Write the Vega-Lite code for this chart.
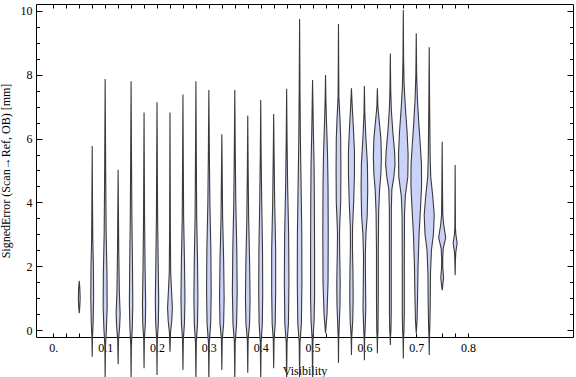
{
  "$schema": "https://vega.github.io/schema/vega-lite/v6.json",
  "width": 537,
  "height": 333,
  "autosize": {"type": "none"},
  "padding": {"left": 36, "top": 4, "right": 3, "bottom": 40},
  "config": {
    "view": {"stroke": "black", "strokeWidth": 1},
    "font": "Liberation Serif",
    "axis": {"domain": false, "grid": false, "tickColor": "black", "tickWidth": 1, "labelFont": "Liberation Serif", "labelFontSize": 12, "labelColor": "black", "titleFont": "Liberation Serif", "titleFontSize": 12, "titleFontWeight": "normal", "titleColor": "black"}
  },
  "data": {"values": [
    {"v":0.05,"e":1.54,"a":0.05,"b":0.05},{"v":0.05,"e":1.3,"a":0.04884,"b":0.05116},{"v":0.05,"e":1.0,"a":0.04826,"b":0.05174},{"v":0.05,"e":0.75,"a":0.04884,"b":0.05116},{"v":0.05,"e":0.53,"a":0.05,"b":0.05},
    {"v":0.075,"e":5.77,"a":0.075,"b":0.075},{"v":0.075,"e":4,"a":0.07442,"b":0.07558},{"v":0.075,"e":2.8,"a":0.07384,"b":0.07616},{"v":0.075,"e":2.0,"a":0.07268,"b":0.07732},{"v":0.075,"e":1.0,"a":0.0723,"b":0.0777},{"v":0.075,"e":0.2,"a":0.07326,"b":0.07674},{"v":0.075,"e":-0.2,"a":0.07442,"b":0.07558},{"v":0.075,"e":-0.84,"a":0.075,"b":0.075},
    {"v":0.1,"e":7.87,"a":0.1,"b":0.1},{"v":0.1,"e":5,"a":0.09903,"b":0.10097},{"v":0.1,"e":3,"a":0.09807,"b":0.10193},{"v":0.1,"e":1.8,"a":0.09652,"b":0.10348},{"v":0.1,"e":0.7,"a":0.09614,"b":0.10386},{"v":0.1,"e":0,"a":0.09768,"b":0.10232},{"v":0.1,"e":-0.5,"a":0.09942,"b":0.10058},{"v":0.1,"e":-1.6,"a":0.1,"b":0.1},
    {"v":0.125,"e":5.02,"a":0.125,"b":0.125},{"v":0.125,"e":2.5,"a":0.12384,"b":0.12616},{"v":0.125,"e":1.2,"a":0.12268,"b":0.12732},{"v":0.125,"e":0.5,"a":0.12114,"b":0.12886},{"v":0.125,"e":0.1,"a":0.1221,"b":0.1279},{"v":0.125,"e":-0.3,"a":0.12423,"b":0.12577},{"v":0.125,"e":-1.07,"a":0.125,"b":0.125},
    {"v":0.15,"e":7.8,"a":0.15,"b":0.15},{"v":0.15,"e":5.5,"a":0.14923,"b":0.15077},{"v":0.15,"e":3.5,"a":0.14845,"b":0.15155},{"v":0.15,"e":2,"a":0.1473,"b":0.1527},{"v":0.15,"e":0.8,"a":0.14672,"b":0.15328},{"v":0.15,"e":0.1,"a":0.14768,"b":0.15232},{"v":0.15,"e":-0.5,"a":0.14942,"b":0.15058},{"v":0.15,"e":-1.6,"a":0.15,"b":0.15},
    {"v":0.175,"e":6.82,"a":0.175,"b":0.175},{"v":0.175,"e":3.5,"a":0.17403,"b":0.17597},{"v":0.175,"e":2,"a":0.17307,"b":0.17693},{"v":0.175,"e":0.8,"a":0.17191,"b":0.17809},{"v":0.175,"e":0.2,"a":0.17249,"b":0.17751},{"v":0.175,"e":-0.3,"a":0.17442,"b":0.17558},{"v":0.175,"e":-1.2,"a":0.175,"b":0.175},
    {"v":0.2,"e":7.14,"a":0.2,"b":0.2},{"v":0.2,"e":3.5,"a":0.19884,"b":0.20116},{"v":0.2,"e":2,"a":0.19768,"b":0.20232},{"v":0.2,"e":0.9,"a":0.19672,"b":0.20328},{"v":0.2,"e":0.2,"a":0.19749,"b":0.20251},{"v":0.2,"e":-0.3,"a":0.19942,"b":0.20058},{"v":0.2,"e":-1.41,"a":0.2,"b":0.2},
    {"v":0.225,"e":6.82,"a":0.225,"b":0.225},{"v":0.225,"e":3,"a":0.22423,"b":0.22577},{"v":0.225,"e":1.8,"a":0.22365,"b":0.22635},{"v":0.225,"e":1.2,"a":0.22191,"b":0.22809},{"v":0.225,"e":0.7,"a":0.22036,"b":0.22964},{"v":0.225,"e":0.3,"a":0.22152,"b":0.22848},{"v":0.225,"e":-0.1,"a":0.22403,"b":0.22597},{"v":0.225,"e":-0.68,"a":0.225,"b":0.225},
    {"v":0.25,"e":7.38,"a":0.25,"b":0.25},{"v":0.25,"e":5.5,"a":0.24942,"b":0.25058},{"v":0.25,"e":3.5,"a":0.24865,"b":0.25135},{"v":0.25,"e":2.2,"a":0.2471,"b":0.2529},{"v":0.25,"e":1,"a":0.24614,"b":0.25386},{"v":0.25,"e":0.2,"a":0.2471,"b":0.2529},{"v":0.25,"e":-0.3,"a":0.24923,"b":0.25077},{"v":0.25,"e":-1.25,"a":0.25,"b":0.25},
    {"v":0.275,"e":7.8,"a":0.275,"b":0.275},{"v":0.275,"e":5.5,"a":0.27423,"b":0.27577},{"v":0.275,"e":3.5,"a":0.27345,"b":0.27655},{"v":0.275,"e":2.2,"a":0.27191,"b":0.27809},{"v":0.275,"e":1,"a":0.27114,"b":0.27886},{"v":0.275,"e":0.2,"a":0.27191,"b":0.27809},{"v":0.275,"e":-0.4,"a":0.27423,"b":0.27577},{"v":0.275,"e":-1.6,"a":0.275,"b":0.275},
    {"v":0.3,"e":7.52,"a":0.3,"b":0.3},{"v":0.3,"e":5.5,"a":0.29903,"b":0.30097},{"v":0.3,"e":4,"a":0.29807,"b":0.30193},{"v":0.3,"e":2.5,"a":0.29614,"b":0.30386},{"v":0.3,"e":1.2,"a":0.29556,"b":0.30444},{"v":0.3,"e":0.2,"a":0.29652,"b":0.30348},{"v":0.3,"e":-0.4,"a":0.29923,"b":0.30077},{"v":0.3,"e":-1.6,"a":0.3,"b":0.3},
    {"v":0.325,"e":6.14,"a":0.325,"b":0.325},{"v":0.325,"e":3.5,"a":0.32345,"b":0.32655},{"v":0.325,"e":2.2,"a":0.32152,"b":0.32848},{"v":0.325,"e":1,"a":0.32056,"b":0.32944},{"v":0.325,"e":0.2,"a":0.32152,"b":0.32848},{"v":0.325,"e":-0.3,"a":0.32423,"b":0.32577},{"v":0.325,"e":-1.25,"a":0.325,"b":0.325},
    {"v":0.35,"e":7.52,"a":0.35,"b":0.35},{"v":0.35,"e":5.5,"a":0.34903,"b":0.35097},{"v":0.35,"e":4,"a":0.34807,"b":0.35193},{"v":0.35,"e":2.5,"a":0.34614,"b":0.35386},{"v":0.35,"e":1.2,"a":0.34536,"b":0.35464},{"v":0.35,"e":0.2,"a":0.34652,"b":0.35348},{"v":0.35,"e":-0.4,"a":0.34923,"b":0.35077},{"v":0.35,"e":-1.6,"a":0.35,"b":0.35},
    {"v":0.375,"e":6.72,"a":0.375,"b":0.375},{"v":0.375,"e":5,"a":0.37423,"b":0.37577},{"v":0.375,"e":3.5,"a":0.37326,"b":0.37674},{"v":0.375,"e":2.2,"a":0.37152,"b":0.37848},{"v":0.375,"e":1,"a":0.37056,"b":0.37944},{"v":0.375,"e":0.2,"a":0.37152,"b":0.37848},{"v":0.375,"e":-0.3,"a":0.37423,"b":0.37577},{"v":0.375,"e":-1.34,"a":0.375,"b":0.375},
    {"v":0.4,"e":7.21,"a":0.4,"b":0.4},{"v":0.4,"e":5.5,"a":0.39923,"b":0.40077},{"v":0.4,"e":4,"a":0.39807,"b":0.40193},{"v":0.4,"e":2.5,"a":0.39652,"b":0.40348},{"v":0.4,"e":1.2,"a":0.39614,"b":0.40386},{"v":0.4,"e":0.2,"a":0.39691,"b":0.40309},{"v":0.4,"e":-0.4,"a":0.39923,"b":0.40077},{"v":0.4,"e":-1.6,"a":0.4,"b":0.4},
    {"v":0.425,"e":6.77,"a":0.425,"b":0.425},{"v":0.425,"e":5.5,"a":0.42423,"b":0.42577},{"v":0.425,"e":4,"a":0.42307,"b":0.42693},{"v":0.425,"e":2.5,"a":0.42114,"b":0.42886},{"v":0.425,"e":1.2,"a":0.42114,"b":0.42886},{"v":0.425,"e":0.2,"a":0.4221,"b":0.4279},{"v":0.425,"e":-0.3,"a":0.42423,"b":0.42577},{"v":0.425,"e":-1.2,"a":0.425,"b":0.425},
    {"v":0.45,"e":7.56,"a":0.45,"b":0.45},{"v":0.45,"e":6,"a":0.44923,"b":0.45077},{"v":0.45,"e":4.5,"a":0.44807,"b":0.45193},{"v":0.45,"e":3,"a":0.44614,"b":0.45386},{"v":0.45,"e":1.5,"a":0.44556,"b":0.45444},{"v":0.45,"e":0.2,"a":0.44652,"b":0.45348},{"v":0.45,"e":-0.4,"a":0.44923,"b":0.45077},{"v":0.45,"e":-1.6,"a":0.45,"b":0.45},
    {"v":0.475,"e":9.75,"a":0.475,"b":0.475},{"v":0.475,"e":7.5,"a":0.47423,"b":0.47577},{"v":0.475,"e":6,"a":0.47345,"b":0.47655},{"v":0.475,"e":4.5,"a":0.4721,"b":0.4779},{"v":0.475,"e":3,"a":0.47075,"b":0.47925},{"v":0.475,"e":1.5,"a":0.47056,"b":0.47944},{"v":0.475,"e":0.2,"a":0.47152,"b":0.47848},{"v":0.475,"e":-0.4,"a":0.47423,"b":0.47577},{"v":0.475,"e":-1.6,"a":0.475,"b":0.475},
    {"v":0.5,"e":7.84,"a":0.5,"b":0.5},{"v":0.5,"e":6.2,"a":0.49845,"b":0.50155},{"v":0.5,"e":5.2,"a":0.4971,"b":0.5029},{"v":0.5,"e":4,"a":0.49652,"b":0.50348},{"v":0.5,"e":2.5,"a":0.49614,"b":0.50386},{"v":0.5,"e":1,"a":0.49614,"b":0.50386},{"v":0.5,"e":0.3,"a":0.4971,"b":0.5029},{"v":0.5,"e":-0.3,"a":0.49923,"b":0.50077},{"v":0.5,"e":-1.6,"a":0.5,"b":0.5},
    {"v":0.525,"e":7.99,"a":0.525,"b":0.525},{"v":0.525,"e":7.2,"a":0.52423,"b":0.52577},{"v":0.525,"e":6.5,"a":0.52307,"b":0.52693},{"v":0.525,"e":5.5,"a":0.52114,"b":0.52886},{"v":0.525,"e":4.5,"a":0.52017,"b":0.52983},{"v":0.525,"e":3,"a":0.51978,"b":0.53022},{"v":0.525,"e":1.5,"a":0.52017,"b":0.52983},{"v":0.525,"e":0.5,"a":0.5221,"b":0.5279},{"v":0.525,"e":-0.1,"a":0.525,"b":0.525},
    {"v":0.55,"e":9.59,"a":0.55,"b":0.55},{"v":0.55,"e":8.3,"a":0.54961,"b":0.55039},{"v":0.55,"e":7.3,"a":0.54923,"b":0.55077},{"v":0.55,"e":6.6,"a":0.5471,"b":0.5529},{"v":0.55,"e":6,"a":0.54575,"b":0.55425},{"v":0.55,"e":5,"a":0.54536,"b":0.55464},{"v":0.55,"e":4,"a":0.54575,"b":0.55425},{"v":0.55,"e":3.5,"a":0.5471,"b":0.5529},{"v":0.55,"e":3,"a":0.54807,"b":0.55193},{"v":0.55,"e":2.4,"a":0.54768,"b":0.55232},{"v":0.55,"e":1.5,"a":0.54672,"b":0.55328},{"v":0.55,"e":0.8,"a":0.5471,"b":0.5529},{"v":0.55,"e":0,"a":0.54884,"b":0.55116},{"v":0.55,"e":-0.3,"a":0.54961,"b":0.55039},{"v":0.55,"e":-1.03,"a":0.55,"b":0.55},
    {"v":0.575,"e":7.58,"a":0.575,"b":0.575},{"v":0.575,"e":7,"a":0.57345,"b":0.57655},{"v":0.575,"e":6.3,"a":0.57114,"b":0.57886},{"v":0.575,"e":5.6,"a":0.5692,"b":0.5808},{"v":0.575,"e":4.9,"a":0.5692,"b":0.5808},{"v":0.575,"e":4,"a":0.57075,"b":0.57925},{"v":0.575,"e":3.2,"a":0.57287,"b":0.57713},{"v":0.575,"e":2.6,"a":0.57307,"b":0.57693},{"v":0.575,"e":1.8,"a":0.5721,"b":0.5779},{"v":0.575,"e":1,"a":0.57172,"b":0.57828},{"v":0.575,"e":0.3,"a":0.57249,"b":0.57751},{"v":0.575,"e":-0.2,"a":0.57442,"b":0.57558},{"v":0.575,"e":-0.78,"a":0.575,"b":0.575},
    {"v":0.6,"e":7.65,"a":0.6,"b":0.6},{"v":0.6,"e":6.8,"a":0.59923,"b":0.60077},{"v":0.6,"e":6,"a":0.5971,"b":0.6029},{"v":0.6,"e":5.2,"a":0.5942,"b":0.6058},{"v":0.6,"e":4.4,"a":0.59362,"b":0.60638},{"v":0.6,"e":3.6,"a":0.59459,"b":0.60541},{"v":0.6,"e":3,"a":0.5971,"b":0.6029},{"v":0.6,"e":2.3,"a":0.59826,"b":0.60174},{"v":0.6,"e":1.5,"a":0.59787,"b":0.60213},{"v":0.6,"e":0.7,"a":0.5973,"b":0.6027},{"v":0.6,"e":0.1,"a":0.59845,"b":0.60155},{"v":0.6,"e":-0.3,"a":0.59961,"b":0.60039},{"v":0.6,"e":-0.95,"a":0.6,"b":0.6},
    {"v":0.625,"e":7.58,"a":0.625,"b":0.625},{"v":0.625,"e":7.0,"a":0.62403,"b":0.62597},{"v":0.625,"e":6.5,"a":0.62114,"b":0.62886},{"v":0.625,"e":6.0,"a":0.61824,"b":0.63176},{"v":0.625,"e":5.4,"a":0.61727,"b":0.63273},{"v":0.625,"e":4.9,"a":0.61824,"b":0.63176},{"v":0.625,"e":4.4,"a":0.62075,"b":0.62925},{"v":0.625,"e":3.7,"a":0.62249,"b":0.62751},{"v":0.625,"e":2.5,"a":0.62326,"b":0.62674},{"v":0.625,"e":1,"a":0.62326,"b":0.62674},{"v":0.625,"e":0,"a":0.62384,"b":0.62616},{"v":0.625,"e":-0.3,"a":0.62461,"b":0.62539},{"v":0.625,"e":-0.73,"a":0.625,"b":0.625},
    {"v":0.65,"e":8.67,"a":0.65,"b":0.65},{"v":0.65,"e":7.5,"a":0.64923,"b":0.65077},{"v":0.65,"e":6.9,"a":0.64807,"b":0.65193},{"v":0.65,"e":6.2,"a":0.64517,"b":0.65483},{"v":0.65,"e":5.6,"a":0.64189,"b":0.65811},{"v":0.65,"e":5.2,"a":0.64092,"b":0.65908},{"v":0.65,"e":4.8,"a":0.64324,"b":0.65676},{"v":0.65,"e":4.4,"a":0.6471,"b":0.6529},{"v":0.65,"e":3.8,"a":0.64807,"b":0.65193},{"v":0.65,"e":2,"a":0.64826,"b":0.65174},{"v":0.65,"e":0.5,"a":0.64826,"b":0.65174},{"v":0.65,"e":0,"a":0.64884,"b":0.65116},{"v":0.65,"e":-0.2,"a":0.64961,"b":0.65039},{"v":0.65,"e":-0.47,"a":0.65,"b":0.65},
    {"v":0.675,"e":10.03,"a":0.675,"b":0.675},{"v":0.675,"e":8.5,"a":0.67442,"b":0.67558},{"v":0.675,"e":7.7,"a":0.67345,"b":0.67655},{"v":0.675,"e":7.0,"a":0.67114,"b":0.67886},{"v":0.675,"e":6.2,"a":0.66766,"b":0.68234},{"v":0.675,"e":5.5,"a":0.66573,"b":0.68427},{"v":0.675,"e":4.8,"a":0.66631,"b":0.68369},{"v":0.675,"e":4.2,"a":0.67114,"b":0.67886},{"v":0.675,"e":3.6,"a":0.67268,"b":0.67732},{"v":0.675,"e":2,"a":0.67307,"b":0.67693},{"v":0.675,"e":0.5,"a":0.67307,"b":0.67693},{"v":0.675,"e":0,"a":0.67365,"b":0.67635},{"v":0.675,"e":-0.3,"a":0.67461,"b":0.67539},{"v":0.675,"e":-0.89,"a":0.675,"b":0.675},
    {"v":0.7,"e":9.3,"a":0.7,"b":0.7},{"v":0.7,"e":8,"a":0.69923,"b":0.70077},{"v":0.7,"e":7.2,"a":0.69768,"b":0.70232},{"v":0.7,"e":6.5,"a":0.69517,"b":0.70483},{"v":0.7,"e":5.9,"a":0.69266,"b":0.70734},{"v":0.7,"e":5.2,"a":0.68995,"b":0.71005},{"v":0.7,"e":4.5,"a":0.68976,"b":0.71024},{"v":0.7,"e":3.8,"a":0.69189,"b":0.70811},{"v":0.7,"e":3.0,"a":0.69459,"b":0.70541},{"v":0.7,"e":2.0,"a":0.69652,"b":0.70348},{"v":0.7,"e":1.0,"a":0.69749,"b":0.70251},{"v":0.7,"e":0.3,"a":0.69845,"b":0.70155},{"v":0.7,"e":-0.1,"a":0.7,"b":0.7},
    {"v":0.725,"e":8.86,"a":0.725,"b":0.725},{"v":0.725,"e":7,"a":0.72423,"b":0.72577},{"v":0.725,"e":5.5,"a":0.72326,"b":0.72674},{"v":0.725,"e":4.8,"a":0.7221,"b":0.7279},{"v":0.725,"e":4.2,"a":0.71824,"b":0.73176},{"v":0.725,"e":3.6,"a":0.71534,"b":0.73466},{"v":0.725,"e":3.0,"a":0.71689,"b":0.73311},{"v":0.725,"e":2.5,"a":0.72075,"b":0.72925},{"v":0.725,"e":1.8,"a":0.72249,"b":0.72751},{"v":0.725,"e":0.8,"a":0.72307,"b":0.72693},{"v":0.725,"e":0.1,"a":0.72384,"b":0.72616},{"v":0.725,"e":-0.3,"a":0.72461,"b":0.72539},{"v":0.725,"e":-0.78,"a":0.725,"b":0.725},
    {"v":0.75,"e":5.9,"a":0.75,"b":0.75},{"v":0.75,"e":4.5,"a":0.74942,"b":0.75058},{"v":0.75,"e":3.6,"a":0.74884,"b":0.75116},{"v":0.75,"e":3.3,"a":0.7471,"b":0.7529},{"v":0.75,"e":2.9,"a":0.74324,"b":0.75676},{"v":0.75,"e":2.55,"a":0.74807,"b":0.75193},{"v":0.75,"e":2.2,"a":0.74903,"b":0.75097},{"v":0.75,"e":1.95,"a":0.74884,"b":0.75116},{"v":0.75,"e":1.65,"a":0.7473,"b":0.7527},{"v":0.75,"e":1.4,"a":0.74884,"b":0.75116},{"v":0.75,"e":1.25,"a":0.75,"b":0.75},
    {"v":0.775,"e":5.17,"a":0.775,"b":0.775},{"v":0.775,"e":3.2,"a":0.77442,"b":0.77558},{"v":0.775,"e":3.0,"a":0.77365,"b":0.77635},{"v":0.775,"e":2.72,"a":0.77114,"b":0.77886},{"v":0.775,"e":2.45,"a":0.77365,"b":0.77635},{"v":0.775,"e":2.2,"a":0.77442,"b":0.77558},{"v":0.775,"e":1.72,"a":0.775,"b":0.775}
  ]},
  "resolve": {"axis": {"x": "independent", "y": "independent"}},
  "layer": [
    {
      "mark": {"type": "area", "orient": "horizontal", "fill": "#cbd2f7", "stroke": "#3a3a3a", "strokeWidth": 1.1, "strokeOpacity": 1, "clip": false},
      "encoding": {
        "y": {"field": "e", "type": "quantitative", "scale": {"domain": [-0.219, 10.219], "nice": false, "zero": false},
              "axis": {"orient": "left", "values": [0, 2, 4, 6, 8, 10], "tickSize": -6, "labelPadding": 10, "title": "SignedError (Scan\u2192Ref, OB) [mm]", "titlePadding": 8}},
        "x": {"field": "a", "type": "quantitative", "scale": {"domain": [-0.0334, 1.0023], "nice": false, "zero": false},
              "axis": {"orient": "bottom", "values": [0,0.025,0.05,0.075,0.1,0.125,0.15,0.175,0.2,0.225,0.25,0.275,0.3,0.325,0.35,0.375,0.4,0.425,0.45,0.475,0.5,0.525,0.55,0.575,0.6,0.625,0.65,0.675,0.7,0.725,0.75,0.775,0.8], "tickSize": -4, "labelPadding": 9, "labelExpr": "abs(datum.value*10 - round(datum.value*10)) < 0.001 ? (datum.value == 0 ? '0.' : format(datum.value, '.1f')) : ''", "title": "Visibility", "titlePadding": 12}},
        "x2": {"field": "b"},
        "detail": {"field": "v"}
      }
    },
    {
      "mark": {"type": "point", "opacity": 0},
      "encoding": {
        "y": {"field": "e", "type": "quantitative", "scale": {"domain": [-0.219, 10.219], "nice": false, "zero": false},
              "axis": {"orient": "right", "values": [0, 2, 4, 6, 8, 10], "tickSize": -6, "labels": false, "title": null}},
        "x": {"field": "a", "type": "quantitative", "scale": {"domain": [-0.0334, 1.0023], "nice": false, "zero": false},
              "axis": {"orient": "top", "values": [0,0.025,0.05,0.075,0.1,0.125,0.15,0.175,0.2,0.225,0.25,0.275,0.3,0.325,0.35,0.375,0.4,0.425,0.45,0.475,0.5,0.525,0.55,0.575,0.6,0.625,0.65,0.675,0.7,0.725,0.75,0.775,0.8], "tickSize": -4, "labels": false, "title": null}}
      }
    },
    {
      "mark": {"type": "point", "opacity": 0},
      "encoding": {
        "y": {"field": "e", "type": "quantitative", "scale": {"domain": [-0.219, 10.219], "nice": false, "zero": false},
              "axis": {"orient": "left", "values": [0.5,1,1.5,2.5,3,3.5,4.5,5,5.5,6.5,7,7.5,8.5,9,9.5], "tickSize": -3.5, "labels": false, "title": null}},
        "x": {"field": "a", "type": "quantitative", "scale": {"domain": [-0.0334, 1.0023], "nice": false, "zero": false}, "axis": null}
      }
    },
    {
      "mark": {"type": "point", "opacity": 0},
      "encoding": {
        "y": {"field": "e", "type": "quantitative", "scale": {"domain": [-0.219, 10.219], "nice": false, "zero": false},
              "axis": {"orient": "right", "values": [0.5,1,1.5,2.5,3,3.5,4.5,5,5.5,6.5,7,7.5,8.5,9,9.5], "tickSize": -3.5, "labels": false, "title": null}},
        "x": {"field": "a", "type": "quantitative", "scale": {"domain": [-0.0334, 1.0023], "nice": false, "zero": false}, "axis": null}
      }
    }
  ]
}
